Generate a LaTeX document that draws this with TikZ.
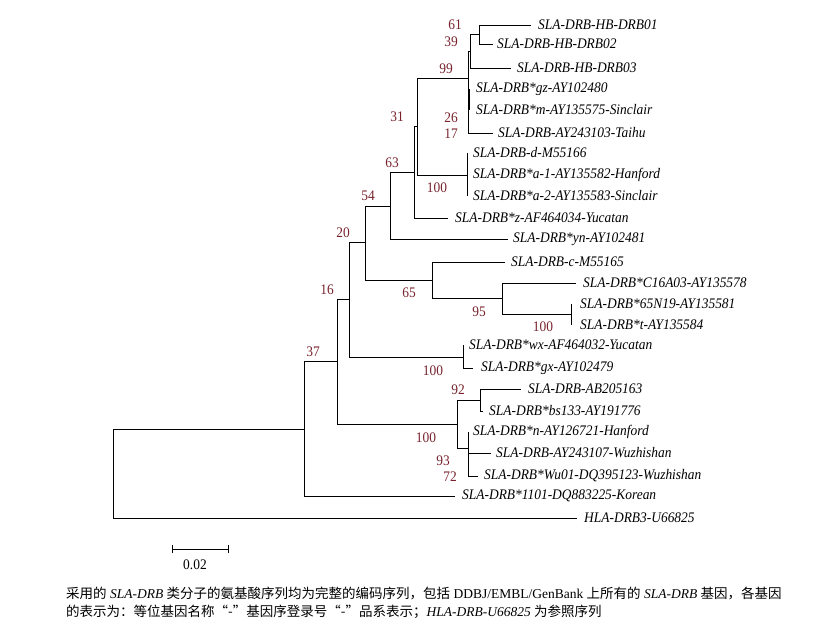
\documentclass[tikz,border=0pt]{standalone}
\usepackage{fontspec}
\setmainfont{Liberation Serif}
\newfontfamily\narrowserif[FakeStretch=0.92]{Liberation Serif}
\newfontfamily\cjk{Noto Sans CJK SC}
\definecolor{bs}{RGB}{120,35,45}
\newcommand{\leaffont}{\narrowserif\fontsize{14.6}{17}\selectfont\itshape}
\newcommand{\bootfont}{\narrowserif\fontsize{14.6}{17}\selectfont}
\newcommand{\capfont}{\fontsize{13.5}{16}\selectfont}
\tikzset{
  branch/.style={line width=0.9pt, black},
  leaflab/.style={anchor=west, inner sep=0pt, font=\leaffont},
  boot/.style={text=bs, font=\bootfont, inner sep=0pt},
}
\begin{document}
\begin{tikzpicture}[x=1pt,y=-1pt]
\useasboundingbox (0,0) rectangle (835,628);
% leaves (end of branch)
\coordinate (L1) at (531,25);
\coordinate (L2) at (493,44);
\coordinate (L3) at (511,68);
\coordinate (L4) at (469,89);
\coordinate (L5) at (469,110);
\coordinate (L6) at (493,133);
\coordinate (L7) at (467,153);
\coordinate (L8) at (467,175);
\coordinate (L9) at (467,196);
\coordinate (L10) at (448,218);
\coordinate (L11) at (508,239);
\coordinate (L12) at (505,262);
\coordinate (L13) at (576,283);
\coordinate (L14) at (571,304);
\coordinate (L15) at (571,325);
\coordinate (L16) at (463,345);
\coordinate (L17) at (473,368);
\coordinate (L18) at (521,389);
\coordinate (L19) at (483,411);
\coordinate (L20) at (468,432);
\coordinate (L21) at (491,453);
\coordinate (L22) at (478,476);
\coordinate (L23) at (455,496);
\coordinate (L24) at (577,518);
% internal nodes
\coordinate (N61) at (479,34.5);
\coordinate (N39) at (470,51.5);
\coordinate (N26) at (469,99.5);
\coordinate (N17) at (468.5,116);
\coordinate (N99) at (468,78);
\coordinate (NA) at (467,175);
\coordinate (N31) at (417,126);
\coordinate (N63) at (414,172.5);
\coordinate (N54) at (390,206);
\coordinate (NB) at (571,314);
\coordinate (N95) at (502,298);
\coordinate (N65) at (432,280);
\coordinate (N20) at (365,242);
\coordinate (NC) at (463,357);
\coordinate (N16) at (349,299.5);
\coordinate (N92) at (480,400);
\coordinate (N72) at (468,464.5);
\coordinate (N93) at (468,448);
\coordinate (ND) at (457,424);
\coordinate (N37) at (337,361.5);
\coordinate (NR2) at (304,429);
\coordinate (NR) at (113,473.5);
% branches
\draw[branch] (N61) |- (L1); \draw[branch] (N61) |- (L2);
\draw[branch] (N39) |- (N61); \draw[branch] (N39) |- (L3);
\draw[branch] (N26) |- (L4); \draw[branch] (N26) |- (L5);
\draw[branch] (N17) |- (N26); \draw[branch] (N17) |- (L6);
\draw[branch] (N99) |- (N39); \draw[branch] (N99) |- (N17);
\draw[branch] (NA) |- (L7); \draw[branch] (NA) |- (L8); \draw[branch] (NA) |- (L9);
\draw[branch] (N31) |- (N99); \draw[branch] (N31) |- (NA);
\draw[branch] (N63) |- (N31); \draw[branch] (N63) |- (L10);
\draw[branch] (N54) |- (N63); \draw[branch] (N54) |- (L11);
\draw[branch] (NB) |- (L14); \draw[branch] (NB) |- (L15);
\draw[branch] (N95) |- (L13); \draw[branch] (N95) |- (NB);
\draw[branch] (N65) |- (L12); \draw[branch] (N65) |- (N95);
\draw[branch] (N20) |- (N54); \draw[branch] (N20) |- (N65);
\draw[branch] (NC) |- (L16); \draw[branch] (NC) |- (L17);
\draw[branch] (N16) |- (N20); \draw[branch] (N16) |- (NC);
\draw[branch] (N92) |- (L18); \draw[branch] (N92) |- (L19);
\draw[branch] (N72) |- (L21); \draw[branch] (N72) |- (L22);
\draw[branch] (N93) |- (L20); \draw[branch] (N93) |- (N72);
\draw[branch] (ND) |- (N92); \draw[branch] (ND) |- (N93);
\draw[branch] (N37) |- (N16); \draw[branch] (N37) |- (ND);
\draw[branch] (NR2) |- (N37); \draw[branch] (NR2) |- (L23);
\draw[branch] (NR) |- (NR2); \draw[branch] (NR) |- (L24);
% leaf labels
\node[leaflab] (T1) at (538,25) {SLA-DRB-HB-DRB01};
\node[leaflab] (T2) at (497,44) {SLA-DRB-HB-DRB02};
\node[leaflab] (T3) at (517,68) {SLA-DRB-HB-DRB03};
\node[leaflab] (T4) at (476,89) {SLA-DRB*gz-AY102480};
\node[leaflab] (T5) at (476,110) {SLA-DRB*m-AY135575-Sinclair};
\node[leaflab] (T6) at (498,133) {SLA-DRB-AY243103-Taihu};
\node[leaflab] (T7) at (473,153) {SLA-DRB-d-M55166};
\node[leaflab] (T8) at (473,175) {SLA-DRB*a-1-AY135582-Hanford};
\node[leaflab] (T9) at (473,196) {SLA-DRB*a-2-AY135583-Sinclair};
\node[leaflab] (T10) at (455,218) {SLA-DRB*z-AF464034-Yucatan};
\node[leaflab] (T11) at (513,239) {SLA-DRB*yn-AY102481};
\node[leaflab] (T12) at (511,262) {SLA-DRB-c-M55165};
\node[leaflab] (T13) at (583,283) {SLA-DRB*C16A03-AY135578};
\node[leaflab] (T14) at (580,304) {SLA-DRB*65N19-AY135581};
\node[leaflab] (T15) at (580,325) {SLA-DRB*t-AY135584};
\node[leaflab] (T16) at (469,345) {SLA-DRB*wx-AF464032-Yucatan};
\node[leaflab] (T17) at (481,368) {SLA-DRB*gx-AY102479};
\node[leaflab] (T18) at (528,389) {SLA-DRB-AB205163};
\node[leaflab] (T19) at (489,411) {SLA-DRB*bs133-AY191776};
\node[leaflab] (T20) at (473,432) {SLA-DRB*n-AY126721-Hanford};
\node[leaflab] (T21) at (496,453) {SLA-DRB-AY243107-Wuzhishan};
\node[leaflab] (T22) at (484,476) {SLA-DRB*Wu01-DQ395123-Wuzhishan};
\node[leaflab] (T23) at (462,496) {SLA-DRB*1101-DQ883225-Korean};
\node[leaflab] (T24) at (584,518) {HLA-DRB3-U66825};
% bootstrap values
\node[boot] (b61) at (455,25) {61};
\node[boot] (b39) at (451,42) {39};
\node[boot] (b99) at (446,69) {99};
\node[boot] (b26) at (451,118) {26};
\node[boot] (b17) at (451,134) {17};
\node[boot] (b31) at (397,117) {31};
\node[boot] (b100a) at (437,188) {100};
\node[boot] (b63) at (392,163) {63};
\node[boot] (b54) at (368,196) {54};
\node[boot] (b20) at (343,233) {20};
\node[boot] (b16) at (327,290) {16};
\node[boot] (b37) at (313,352) {37};
\node[boot] (b65) at (409,293) {65};
\node[boot] (b95) at (479,312) {95};
\node[boot] (b100b) at (543,327) {100};
\node[boot] (b100c) at (433,371) {100};
\node[boot] (b92) at (458,390) {92};
\node[boot] (b100d) at (426,438) {100};
\node[boot] (b93) at (443,461) {93};
\node[boot] (b72) at (450,477) {72};
% scale bar
\coordinate (S1) at (172,549);
\coordinate (S2) at (228,549);
\draw[branch] (S1) -- (S2);
\draw[branch] ([yshift=-4pt]S1) -- ([yshift=4pt]S1);
\draw[branch] ([yshift=-4pt]S2) -- ([yshift=4pt]S2);
\node[font=\bootfont, inner sep=0pt] (scl) at (195,565) {0.02};
% caption
\node[anchor=west, inner sep=0pt, font=\capfont] (cap1) at (66,593)
  {{\cjk 采用的}\ \textit{SLA-DRB}\ {\cjk 类分子的氨基酸序列均为完整的编码序列，包括}\ DDBJ/EMBL/GenBank\ {\cjk 上所有的}\ \textit{SLA-DRB}\ {\cjk 基因，各基因}};
\node[anchor=west, inner sep=0pt, font=\capfont] (cap2) at (66,612)
  {{\cjk 的表示为：等位基因名称“-”基因序登录号“-”品系表示；}\textit{HLA-DRB-U66825}\ {\cjk 为参照序列}};
\end{tikzpicture}
\end{document}
